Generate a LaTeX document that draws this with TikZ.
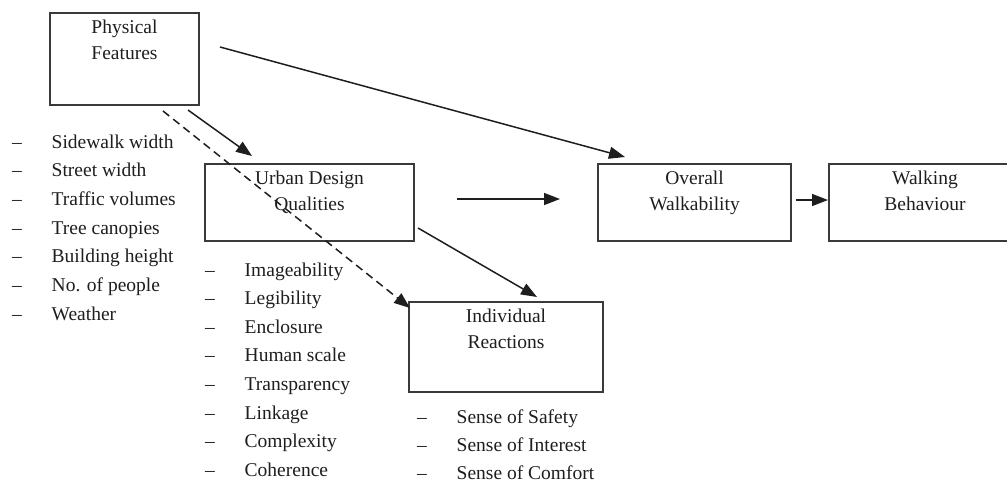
\documentclass[tikz,border=0pt]{standalone}
\usepackage{fontspec}
\setmainfont{Liberation Serif}
\usetikzlibrary{arrows.meta,calc}
\definecolor{ink}{HTML}{1E1E1E}
\definecolor{boxgray}{HTML}{3A3A3A}
% one list entry: an en dash, then the text at a fixed indent
\newcommand\dashrow[1]{\makebox[39.5pt][l]{–}#1}
\begin{document}
\begin{tikzpicture}[x=1pt,y=1pt,
  box/.style={draw=boxgray, line width=1.7pt, rectangle, anchor=north west,
    inner sep=0pt, outer sep=0pt},
  title/.style={anchor=base, inner sep=0pt, font=\fontsize{19.5}{24}\selectfont, text=ink},
  item/.style={anchor=base west, inner sep=0pt, font=\fontsize{19.5}{24}\selectfont, text=ink},
  link/.style={draw=ink, line width=1.5pt, -{Triangle[length=16pt,width=12pt]}},
  hint/.style={link, dash pattern=on 8pt off 5pt}]
\useasboundingbox (0,0) rectangle (1007,-483);

% boxes
\node[box, minimum width=149pt, minimum height=92pt] (pf) at (50,-13) {};
\node[box, minimum width=209pt, minimum height=77pt] (ud) at (205,-164) {};
\node[box, minimum width=194pt, minimum height=90pt] (ir) at (409,-302) {};
\node[box, minimum width=193pt, minimum height=77pt] (ow) at (598,-164) {};
\node[box, minimum width=192pt, minimum height=77pt] (wb) at (829,-164) {};

% box titles
\node[title] (pfa) at ([yshift=-20pt]pf.north) {Physical};
\node[title] (pfb) at ([yshift=-46.5pt]pf.north) {Features};
\node[title] (uda) at ([yshift=-20pt]ud.north) {Urban Design};
\node[title] (udb) at ([yshift=-46.5pt]ud.north) {Qualities};
\node[title] (ira) at ([yshift=-20pt]ir.north) {Individual};
\node[title] (irb) at ([yshift=-46.5pt]ir.north) {Reactions};
\node[title] (owa) at ([yshift=-20pt]ow.north) {Overall};
\node[title] (owb) at ([yshift=-46.5pt]ow.north) {Walkability};
\node[title] (wba) at ([yshift=-20pt]wb.north) {Walking};
\node[title] (wbb) at ([yshift=-46.5pt]wb.north) {Behaviour};

% lists of factors
\foreach \t [count=\i] in {Sidewalk width, Street width, Traffic volumes,
    Tree canopies, Building height, No. of people, Weather}
  \node[item] (pfl\i) at (12, {-148-28.67*(\i-1)}) {\dashrow{\t}};
\foreach \t [count=\i] in {Imageability, Legibility, Enclosure, Human scale,
    Transparency, Linkage, Complexity, Coherence}
  \node[item] (udl\i) at (205, {-276-28.6*(\i-1)}) {\dashrow{\t}};
\foreach \t [count=\i] in {Sense of Safety, Sense of Interest, Sense of Comfort}
  \node[item] (irl\i) at (417, {-423-28.2*(\i-1)}) {\dashrow{\t}};

% connector end points
\coordinate (pfow1) at ($(pf.north east)+(21,-34)$);
\coordinate (pfow2) at ($(ow.north west)+(27,7)$);
\coordinate (pfud1) at ($(pf.south east)+(-11,-5)$);
\coordinate (pfud2) at ($(ud.north west)+(47,8)$);
\coordinate (pfir1) at ($(pf.south east)+(-36,-6)$);
\coordinate (pfir2) at ($(ir.north west)+(1,-6)$);
\coordinate (udow1) at ($(ud.east)+(43,3.5)$);
\coordinate (udow2) at ($(ow.west)+(-38,3.5)$);
\coordinate (udir1) at ($(ud.south east)+(4,13)$);
\coordinate (udir2) at ($(ir.north)+(31,5)$);
\coordinate (owwb1) at ($(ow.east)+(5,2.5)$);
\coordinate (owwb2) at ($(wb.west)+(-1,2.5)$);

% connectors
\draw[link] (pfow1) -- (pfow2);
\draw[link] (pfud1) -- (pfud2);
\draw[hint] (pfir1) -- (pfir2);
\draw[link] (udow1) -- (udow2);
\draw[link] (udir1) -- (udir2);
\draw[link] (owwb1) -- (owwb2);
\end{tikzpicture}
\end{document}
